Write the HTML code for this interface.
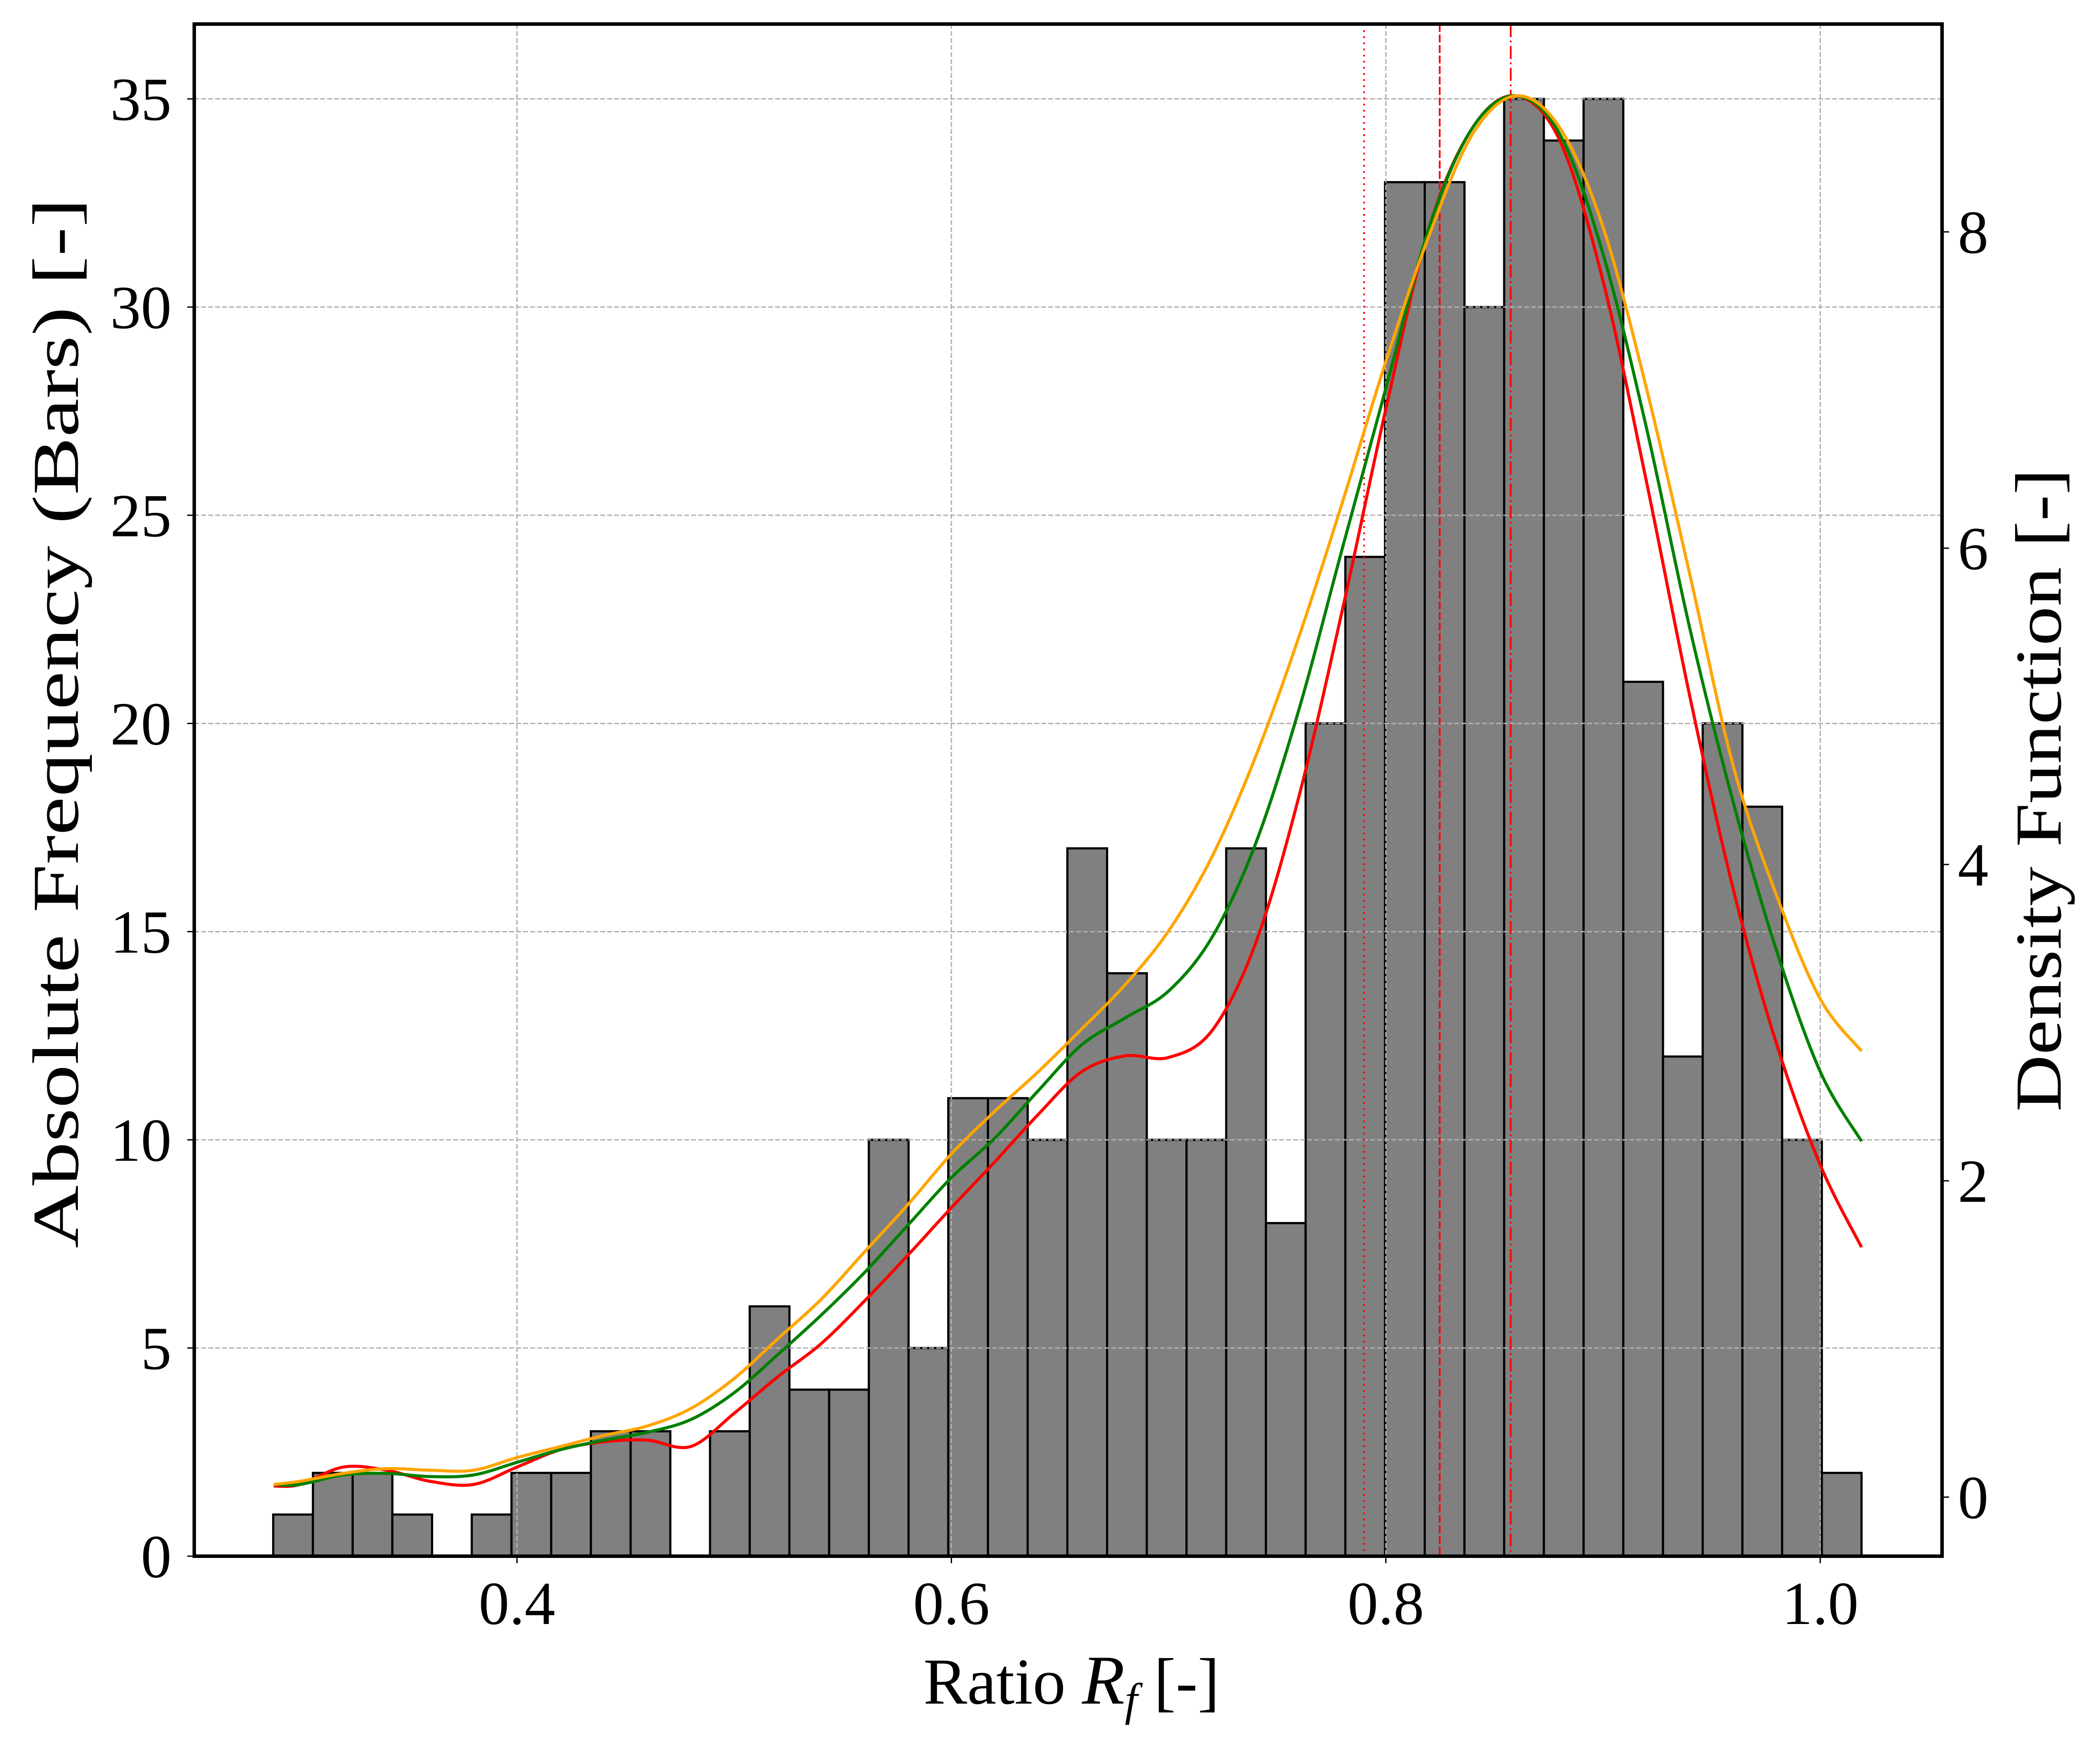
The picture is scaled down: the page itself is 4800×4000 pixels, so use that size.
<!DOCTYPE html>
<html><head><meta charset="utf-8"><style>
html,body{margin:0;padding:0;background:#fff;}
svg{display:block;font-family:"Liberation Serif","DejaVu Serif",serif;}
</style></head><body>
<svg id="chart" width="4800" height="4000" viewBox="0 0 4800 4000" xmlns="http://www.w3.org/2000/svg">
<rect x="0" y="0" width="4800" height="4000" fill="#fff"/>
<g id="bars"></g>
<g id="grid"></g>
<g id="vlines"></g>
<g id="curves"></g>
<g id="axes"></g>
<text x="2449" y="3894" font-size="150" text-anchor="middle">Ratio <tspan font-style="italic" font-size="160">R</tspan><tspan font-style="italic" font-size="105" dy="26">f</tspan><tspan dy="-26"> [-]</tspan></text>
<text x="0" y="0" font-size="150" text-anchor="middle" textLength="2400" lengthAdjust="spacingAndGlyphs" transform="translate(178,1653) rotate(-90)">Absolute Frequency (Bars) [-]</text>
<text x="0" y="0" font-size="150" text-anchor="middle" textLength="1470" lengthAdjust="spacingAndGlyphs" transform="translate(4710,1806) rotate(-90)">Density Function [-]</text>
</svg>
<script>
// ---- data ----
const binMin = 0.2878;
const binMax = 1.019;
const counts = [1,2,2,1,0,1,2,2,3,3,0,3,6,4,4,10,5,11,11,10,17,14,10,10,17,8,20,24,33,33,30,35,34,35,21,12,20,18,10,2];
const curveX = [0.288,0.30,0.32,0.34,0.36,0.38,0.40,0.42,0.44,0.46,0.48,0.50,0.52,0.54,0.56,0.58,0.60,0.62,0.64,0.66,0.68,0.70,0.72,0.74,0.76,0.78,0.80,0.82,0.84,0.86,0.88,0.90,0.92,0.94,0.96,0.98,1.00,1.019];
const orangeY = [0.08,0.10,0.15,0.18,0.17,0.17,0.25,0.32,0.39,0.45,0.56,0.75,1.00,1.25,1.55,1.85,2.17,2.44,2.69,2.96,3.24,3.58,4.05,4.68,5.44,6.29,7.18,7.98,8.62,8.86,8.66,8.03,7.01,5.83,4.62,3.80,3.15,2.82];
const greenY = [0.08,0.08,0.14,0.15,0.13,0.14,0.22,0.30,0.36,0.41,0.49,0.66,0.90,1.15,1.42,1.72,2.02,2.27,2.57,2.86,3.03,3.20,3.54,4.13,4.98,6.00,7.01,8.03,8.66,8.86,8.62,7.86,6.76,5.49,4.39,3.45,2.69,2.25];
const redY = [0.07,0.08,0.19,0.17,0.10,0.08,0.19,0.30,0.35,0.36,0.32,0.53,0.76,0.97,1.24,1.53,1.83,2.12,2.42,2.69,2.79,2.78,2.95,3.50,4.43,5.61,6.88,8.03,8.66,8.86,8.58,7.69,6.42,5.06,3.84,2.86,2.10,1.58];
const refLines = [0.790, 0.8248, 0.8575];
const xTicks = [0.4,0.6,0.8,1.0];
const xTickLabels = ["0.4","0.6","0.8","1.0"];
const yTicks = [0,5,10,15,20,25,30,35];
const y2Ticks = [0,2,4,6,8];

// ---- geometry ----
const L=444,R=4439,T=55,B=3557;
const sx = x => 1181.6 + (x-0.4)*4965;
const sy = v => 3557 - v*95.17;
const sy2 = d => 3422 - d*361.5;
const NS="http://www.w3.org/2000/svg";
function mk(tag, parent, attrs){const e=document.createElementNS(NS,tag);for(const k in attrs)e.setAttribute(k,attrs[k]);parent.appendChild(e);return e;}

// bars
const gb=document.getElementById('bars');
const w=(binMax-binMin)/counts.length;
counts.forEach((c,i)=>{
  if(c<=0) return;
  const x0=sx(binMin+i*w), x1=sx(binMin+(i+1)*w);
  const r=mk('rect',gb,{x:x0,y:sy(c),width:x1-x0,height:sy(0)-sy(c),fill:'#808080',stroke:'#000','stroke-width':5});
  
  
});

// grid
const gg=document.getElementById('grid');
xTicks.forEach(t=>{
  const l=mk('line',gg,{x1:sx(t),x2:sx(t),y1:T,y2:B,stroke:'#b0b0b0','stroke-width':3,'stroke-dasharray':'11 5'});
  
  
});
yTicks.forEach(t=>{
  if(t===0) return;
  const l=mk('line',gg,{x1:L,x2:R,y1:sy(t),y2:sy(t),stroke:'#b0b0b0','stroke-width':3,'stroke-dasharray':'11 5'});
  
  
});

// reference lines
const gv=document.getElementById('vlines');
const dashes=['4 10','18 6','30 8 4 8'];
const refNames=['ref-line-dotted','ref-line-dashed','ref-line-dashdot'];
refLines.forEach((v,i)=>{
  const l=mk('line',gv,{x1:sx(v),x2:sx(v),y1:T,y2:B,stroke:'#ff0000','stroke-width':4,'stroke-dasharray':dashes[i]});
  
  
});

// curves
function pathFor(ys){
  const p=curveX.map((x,i)=>[sx(x),sy2(ys[i])]);
  let d='M'+p[0][0]+','+p[0][1];
  for(let i=0;i<p.length-1;i++){
    const p0=p[Math.max(0,i-1)],p1=p[i],p2=p[i+1],p3=p[Math.min(p.length-1,i+2)];
    const c1=[p1[0]+(p2[0]-p0[0])/6,p1[1]+(p2[1]-p0[1])/6];
    const c2=[p2[0]-(p3[0]-p1[0])/6,p2[1]-(p3[1]-p1[1])/6];
    d+=' C'+c1[0]+','+c1[1]+' '+c2[0]+','+c2[1]+' '+p2[0]+','+p2[1];
  }
  return d;
}
const gc=document.getElementById('curves');
const cr=mk('path',gc,{d:pathFor(redY),fill:'none',stroke:'#ff0000','stroke-width':7});


const cg=mk('path',gc,{d:pathFor(greenY),fill:'none',stroke:'#008000','stroke-width':7});


const co=mk('path',gc,{d:pathFor(orangeY),fill:'none',stroke:'#ffa500','stroke-width':7});



// axes
const ga=document.getElementById('axes');
const frame=mk('rect',ga,{x:L,y:T,width:R-L,height:B-T,fill:'none',stroke:'#000','stroke-width':8});


xTicks.forEach((t,i)=>{
  const tk=mk('line',ga,{x1:sx(t),x2:sx(t),y1:B,y2:B+16,stroke:'#000','stroke-width':3});
  
  
  const lb=mk('text',ga,{x:sx(t),y:3712,'font-size':140,'text-anchor':'middle'});
  lb.textContent=xTickLabels[i];
  
  
});
yTicks.forEach(t=>{
  const tk=mk('line',ga,{x1:L-16,x2:L,y1:sy(t),y2:sy(t),stroke:'#000','stroke-width':3});
  
  
  const lb=mk('text',ga,{x:392,y:sy(t)+48,'font-size':140,'text-anchor':'end'});
  lb.textContent=String(t);
  
  
});
y2Ticks.forEach(t=>{
  const tk=mk('line',ga,{x1:R,x2:R+16,y1:sy2(t),y2:sy2(t),stroke:'#000','stroke-width':3});
  
  
  const lb=mk('text',ga,{x:4475,y:sy2(t)+48,'font-size':140,'text-anchor':'start'});
  lb.textContent=String(t);
  
  
});
</script>
</body></html>
